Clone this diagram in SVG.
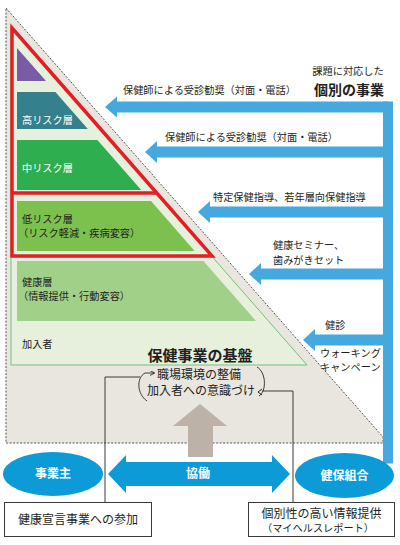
<svg xmlns="http://www.w3.org/2000/svg" width="400" height="545" viewBox="0 0 400 545">
<defs>
<style>
text{font-family:"Noto Sans CJK JP","Noto Sans",sans-serif;fill:#231f20}
.s{font-size:10.2px}
.m{font-size:12px}
.w{fill:#fff}
.b{font-weight:bold}
.blue{fill:#45a8df}
.dk{fill:#0d9bd7}
.ln{fill:none;stroke:#3a3a3a;stroke-width:1}
</style>
<marker id="ah" viewBox="0 0 6 6" refX="5" refY="3" markerWidth="5" markerHeight="5" orient="auto"><path d="M0,0 L6,3 L0,6" fill="none" stroke="#231f20" stroke-width="1"/></marker>
</defs>
<rect width="400" height="545" fill="#fff"/>
<g id="base">
<polygon points="6,8 383,437 383,443 6,443" fill="#e9e6e0" stroke="#555" stroke-width="1" stroke-dasharray="2,1.5"/>
<polygon points="11,27 307,365 11,365" fill="#e6f0dd" stroke="#74c17a" stroke-width="1"/>
</g>
<g id="layer-purple"><polygon points="17,48 46,81 17,81" fill="#7a5ba6"/></g>
<g id="layer-high">
<polygon points="17,92 55.4,92 87.8,129 17,129" fill="#34808c"/>
<text class="s w" x="22" y="124">高リスク層</text>
</g>
<g id="layer-mid">
<polygon points="17,140 97.4,140 141.2,190 17,190" fill="#2fae50"/>
<text class="s w" x="22" y="172">中リスク層</text>
</g>
<g id="layer-low">
<polygon points="17,201 151,201 194.6,251 17,251" fill="#7cc04e"/>
<text class="s" x="22" y="222.5">低リスク層</text>
<text class="s" x="18" y="236.5">（リスク軽減・疾病変容）</text>
</g>
<g id="layer-health">
<polygon points="17,261 203.4,261 256,321 17,321" fill="#a1d189"/>
<text class="s" x="22" y="286">健康層</text>
<text class="s" x="18" y="300">（情報提供・行動変容）</text>
</g>
<g id="members"><text class="s" x="22" y="348">加入者</text></g>
<g id="red-frame">
<polygon points="12,28 212,256 12,256" fill="none" stroke="#e31e24" stroke-width="3.5"/>
<line x1="12" y1="193" x2="157" y2="193" stroke="#e31e24" stroke-width="3.5"/>
</g>
<g id="foundation"><text x="200" y="361" text-anchor="middle" class="b" font-size="15">保健事業の基盤</text></g>
<g id="cycle">
<text class="m" x="199" y="379" text-anchor="middle">職場環境の整備</text>
<text class="m" x="201" y="395" text-anchor="middle">加入者への意識づけ</text>
<path class="ln" d="M147,401 C137,394 136,378 145,373 L154,373" marker-end="url(#ah)" stroke="#231f20"/>
<path class="ln" d="M257,367 C266,372 267,391 259,396" stroke="#231f20"/>
<path d="M262,389 L258,392 L262,395" fill="none" stroke="#231f20" stroke-width="1"/>
</g>
<g id="up-arrow"><polygon points="200,404 227,426 213,426 213,457 188,457 188,426 173,426" fill="#bdb2a8"/></g>
<g id="connectors">
<rect class="blue" x="383" y="101.5" width="10" height="362"/>
<polygon class="blue" points="105,107 117,96.5 117,101.5 388,101.5 388,112.5 117,112.5 117,117.5"/>
<polygon class="blue" points="145,152 157,141 157,146.5 388,146.5 388,157.5 157,157.5 157,163"/>
<polygon class="blue" points="198,212 210,201 210,206.5 388,206.5 388,217.5 210,217.5 210,223"/>
<polygon class="blue" points="249,274 261,263 261,268.5 388,268.5 388,279.5 261,279.5 261,285"/>
<polygon class="blue" points="303,340 315,329 315,334.5 388,334.5 388,345.5 315,345.5 315,351"/>
<polygon class="dk" points="108,474 126,455 126,462 272,462 272,455 290,474 272,493 272,486 126,486 126,493"/>
<polyline class="ln" points="140,377 105,377 105,502"/>
<polyline class="ln" points="262,391 293,391 293,502"/>
</g>
<g id="labels-right">
<text class="s" x="348" y="74.5" text-anchor="middle">課題に対応した</text>
<text class="b" x="349" y="95" text-anchor="middle" font-size="14">個別の事業</text>
<text class="s" x="123" y="94">保健師による受診勧奨（対面・電話）</text>
<text class="s" x="165" y="141">保健師による受診勧奨（対面・電話）</text>
<text class="s" x="213" y="201">特定保健指導、若年層向保健指導</text>
<text class="s" x="273" y="249">健康セミナー、</text>
<text class="s" x="273" y="264">歯みがきセット</text>
<text class="s" x="325" y="329">健診</text>
<text class="s" x="320" y="356.5">ウォーキング</text>
<text class="s" x="320" y="370.5">キャンペーン</text>
</g>
<g id="collab"><text class="m w b" x="198" y="478" text-anchor="middle">協働</text></g>
<g id="employer">
<ellipse class="dk" cx="53" cy="474" rx="50" ry="22"/>
<text class="m w b" x="53" y="478" text-anchor="middle">事業主</text>
</g>
<g id="kenpo">
<ellipse class="dk" cx="344.5" cy="475.5" rx="49.5" ry="22.5"/>
<text class="m w b" x="344.5" y="480" text-anchor="middle">健保組合</text>
</g>
<g id="box-left">
<rect x="4.5" y="502.5" width="147" height="34" fill="#fff" stroke="#3a3a3a"/>
<text class="m" x="78" y="524" text-anchor="middle">健康宣言事業への参加</text>
</g>
<g id="box-right">
<rect x="248.5" y="502.5" width="146" height="34" fill="#fff" stroke="#3a3a3a"/>
<text class="m" x="321.5" y="518" text-anchor="middle">個別性の高い情報提供</text>
<text class="s" x="318" y="532" text-anchor="middle">（マイヘルスレポート）</text>
</g>
</svg>
